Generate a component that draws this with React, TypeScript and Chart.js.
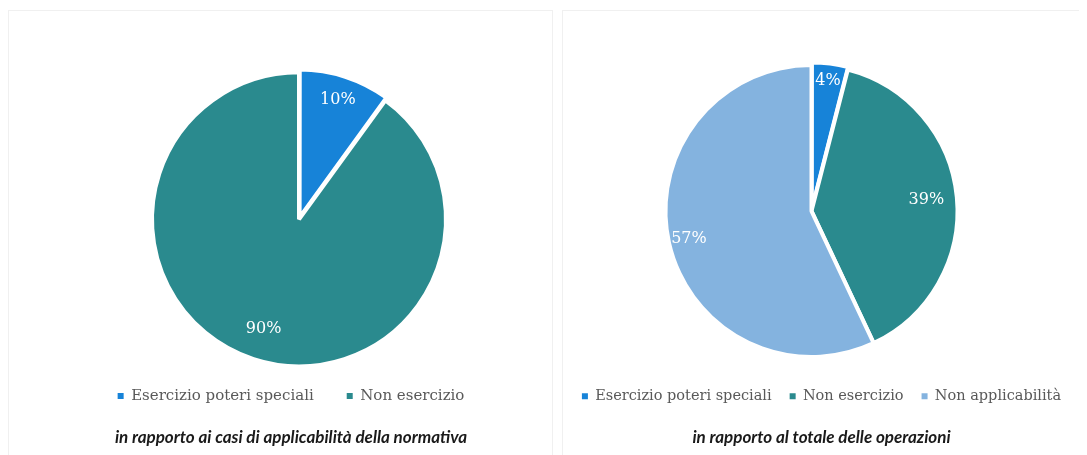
import React, { useEffect, useRef } from "react";
import { Chart, registerables } from "chart.js";

Chart.register(...registerables);

// ---- data ----
const leftLabels = ["Esercizio poteri speciali", "Non esercizio"];
const leftValues = [10, 90];
const leftTitle = "in rapporto ai casi di applicabilità della normativa";

const rightLabels = ["Esercizio poteri speciali", "Non esercizio", "Non applicabilità"];
const rightValues = [4, 39, 57];
const rightTitle = "in rapporto al totale delle operazioni";

const BLUE = "#1783d8";
const TEAL = "#2a8a8e";
const LIGHT = "#84b3df";

const SERIF = "'DejaVu Serif', 'Liberation Serif', serif";
const SANS = "Lato, 'Open Sans', sans-serif";

const pctLabels = {
  id: "pctLabels",
  afterLayout(chart: any, _args: any, opts: any) {
    const s = opts.shift || 0;
    chart.chartArea.left += s;
    chart.chartArea.right += s;
  },
  afterDatasetsDraw(chart: any, _args: any, opts: any) {
    const ctx = chart.ctx;
    const meta = chart.getDatasetMeta(0);
    const data = chart.data.datasets[0].data;
    const fracs: number[] = opts.fracs || [];
    ctx.save();
    ctx.fillStyle = "#ffffff";
    ctx.font = `16px ${SERIF}`;
    ctx.textAlign = "center";
    ctx.textBaseline = "middle";
    meta.data.forEach((arc: any, i: number) => {
      const p = arc.getProps(["x", "y", "startAngle", "endAngle", "outerRadius"], true);
      const mid = (p.startAngle + p.endAngle) / 2;
      const off = (chart.data.datasets[0].offset || [])[i] || 0;
      const r = p.outerRadius * (fracs[i] ?? 0.8) + off;
      ctx.fillText(`${data[i]}%`, p.x + Math.cos(mid) * r, p.y + Math.sin(mid) * r);
    });
    ctx.restore();
  },
};

type PieProps = {
  labels: string[];
  values: number[];
  colors: string[];
  offsets: number[];
  title: string;
  fracs: number[];
  radius: number;
  padding: { left: number; right: number; top: number; bottom: number };
  legendGap: number;
  legendSize: number;
  shift: number;
};

function PieChart(props: PieProps) {
  const ref = useRef<HTMLCanvasElement | null>(null);
  useEffect(() => {
    if (!ref.current) return;
    const chart = new Chart(ref.current, {
      type: "pie",
      data: {
        labels: props.labels,
        datasets: [
          {
            data: props.values,
            backgroundColor: props.colors,
            borderColor: "#ffffff",
            borderWidth: 4,
            offset: props.offsets,
          } as any,
        ],
      },
      options: {
        animation: false,
        responsive: true,
        maintainAspectRatio: false,
        radius: props.radius,
        layout: { padding: props.padding },
        plugins: {
          tooltip: { enabled: false },
          legend: {
            position: "bottom",
            labels: {
              boxWidth: 6,
              boxHeight: 6,
              padding: props.legendGap,
              color: "#595959",
              font: { family: SERIF, size: props.legendSize },
              generateLabels(chart: any) {
                const base = Chart.overrides.pie.plugins.legend.labels.generateLabels(chart);
                return base.map((l: any) => ({ ...l, lineWidth: 0, strokeStyle: "rgba(0,0,0,0)" }));
              },
            },
          },
          title: {
            display: true,
            position: "bottom",
            text: props.title,
            color: "#1a1a1a",
            font: { family: SANS, size: 17, weight: "bold", style: "italic" },
            padding: { top: 14, bottom: 7 },
          },
          pctLabels: { fracs: props.fracs, shift: props.shift },
        } as any,
      },
      plugins: [pctLabels],
    });
    return () => chart.destroy();
  }, []);
  return <canvas ref={ref} />;
}

const panelStyle = (w: number): React.CSSProperties => ({
  position: "relative",
  flex: "0 0 auto",
  width: w,
  height: 445,
  border: "1px solid #f0f0f0",
  borderBottom: "none",
  boxSizing: "border-box",
});

export default function App() {
  useEffect(() => {
    document.body.style.overflow = "hidden";
  }, []);
  return (
    <div style={{ display: "flex", marginTop: 2, height: 445 }}>
      <div style={panelStyle(545)}>
        <PieChart
          labels={leftLabels}
          values={leftValues}
          colors={[BLUE, TEAL]}
          offsets={[8, 0]}
          title={leftTitle}
          fracs={[0.8, 0.78]}
          radius={147}
          padding={{ left: 21, right: 0, top: 72, bottom: 0 }}
          legendGap={33}
          legendSize={15}
          shift={8}
        />
      </div>
      <div style={{ flex: "0 0 auto", width: 9 }} />
      <div style={panelStyle(525)}>
        <PieChart
          labels={rightLabels}
          values={rightValues}
          colors={[BLUE, TEAL, LIGHT]}
          offsets={[6, 0, 0]}
          title={rightTitle}
          fracs={[0.86, 0.79, 0.86]}
          radius={146}
          padding={{ left: 0, right: 6, top: 40, bottom: 0 }}
          legendGap={18}
          legendSize={14.5}
          shift={-10}
        />
      </div>
    </div>
  );
}
